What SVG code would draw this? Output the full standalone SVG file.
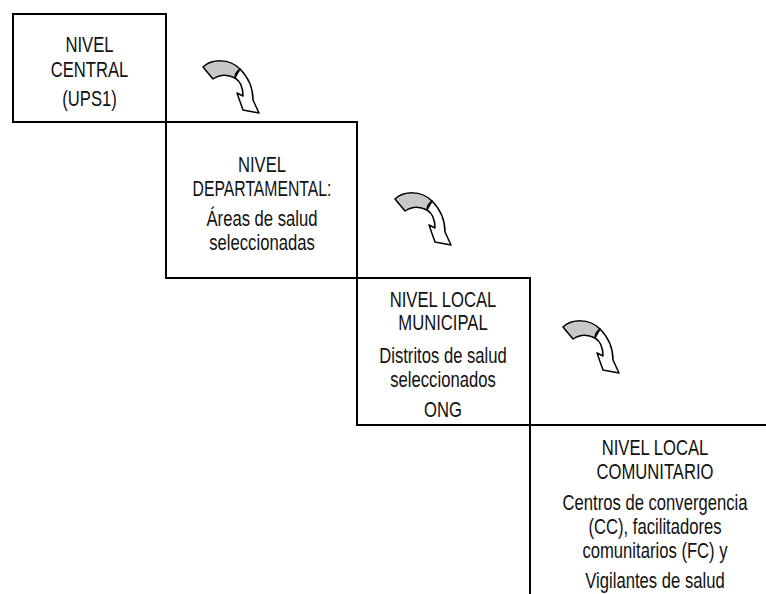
<svg xmlns="http://www.w3.org/2000/svg" width="766" height="594" viewBox="0 0 766 594">
  <style>
    .frame { fill: none; stroke: #000; stroke-width: 2; }
    .t { font-family: "Liberation Sans", Arial, sans-serif; font-size: 22.5px; text-anchor: middle; fill: #111; }
    .tail { fill: #c8c8c8; stroke: #000; stroke-width: 1.5; stroke-linejoin: round; }
    .head { fill: #fff; stroke: #000; stroke-width: 1.5; stroke-linejoin: round; }
  </style>
  <defs>
    <!-- twisted curved arrow, local origin at top-left of its bounding area -->
    <g id="curlArrow">
      <path class="head" d="M50,19 C58,27 63,38 63,50 L69,63 L53,60 L47,43 L53,46 C53,38 50,31 45,28 Z"/>
      <path class="tail" d="M13,17 C22,9 39,8 50,19 C47,21 45,25 45,28 C37,24 29,25 23,29 Z"/>
    </g>
  </defs>

  <rect width="766" height="594" fill="#fff"/>

  <g id="nivel-central">
    <rect class="frame" x="13" y="14" width="153" height="108"/>
    <text class="t" transform="translate(89.5,52) scale(0.74,1)">NIVEL</text>
    <text class="t" transform="translate(89.5,77) scale(0.74,1)">CENTRAL</text>
    <text class="t" transform="translate(89.5,106) scale(0.74,1)">(UPS1)</text>
  </g>

  <g id="nivel-departamental">
    <rect class="frame" x="166" y="122" width="191" height="156"/>
    <text class="t" transform="translate(262,172) scale(0.74,1)">NIVEL</text>
    <text class="t" transform="translate(262,196) scale(0.7,1)">DEPARTAMENTAL:</text>
    <text class="t" transform="translate(262,226) scale(0.74,1)">Áreas de salud</text>
    <text class="t" transform="translate(262,250) scale(0.74,1)">seleccionadas</text>
  </g>

  <g id="nivel-local-municipal">
    <rect class="frame" x="357" y="278" width="173" height="147"/>
    <text class="t" transform="translate(443,307) scale(0.74,1)">NIVEL LOCAL</text>
    <text class="t" transform="translate(443,330) scale(0.74,1)">MUNICIPAL</text>
    <text class="t" transform="translate(443,363) scale(0.74,1)">Distritos de salud</text>
    <text class="t" transform="translate(443,387) scale(0.74,1)">seleccionados</text>
    <text class="t" transform="translate(443,417) scale(0.74,1)">ONG</text>
  </g>

  <g id="nivel-local-comunitario">
    <path class="frame" d="M766,425 H530 V594"/>
    <text class="t" transform="translate(655,455) scale(0.74,1)">NIVEL LOCAL</text>
    <text class="t" transform="translate(655,479) scale(0.74,1)">COMUNITARIO</text>
    <text class="t" transform="translate(655,510) scale(0.74,1)">Centros de convergencia</text>
    <text class="t" transform="translate(655,534) scale(0.74,1)">(CC), facilitadores</text>
    <text class="t" transform="translate(655,558) scale(0.74,1)">comunitarios (FC) y</text>
    <text class="t" transform="translate(655,588) scale(0.74,1)">Vigilantes de salud</text>
  </g>

  <g id="connectors">
    <use href="#curlArrow" transform="translate(190,50)"/>
    <use href="#curlArrow" transform="translate(382,182)"/>
    <use href="#curlArrow" transform="translate(550,310)"/>
  </g>
</svg>
